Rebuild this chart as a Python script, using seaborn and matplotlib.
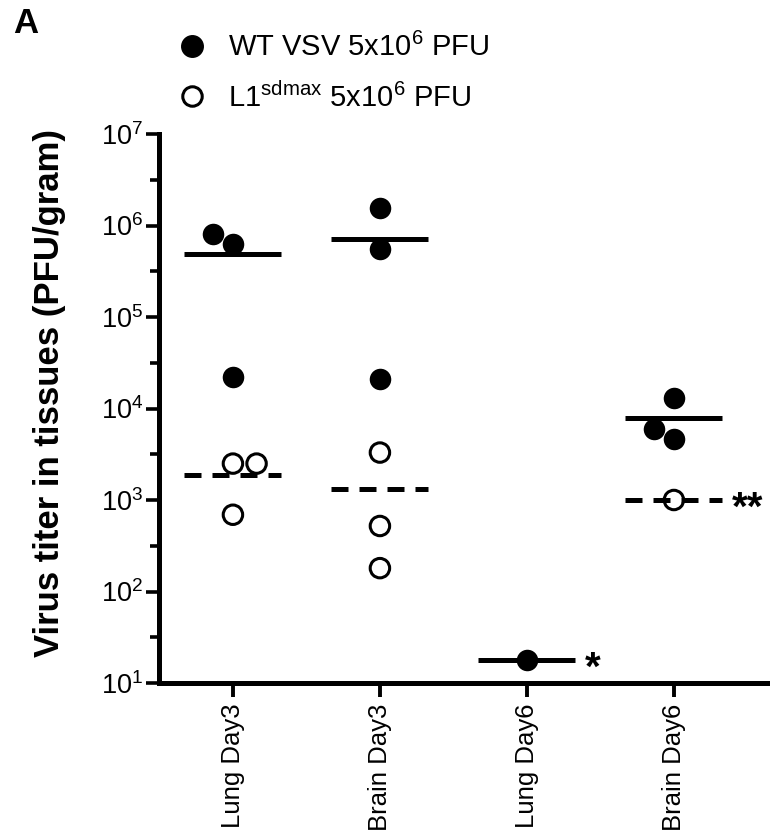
import numpy as np
import pandas as pd
import matplotlib
matplotlib.use("Agg")
import matplotlib.pyplot as plt
import seaborn as sns
from matplotlib.lines import Line2D
from matplotlib.ticker import FixedLocator, LogFormatterMathtext, NullFormatter

# ---------------- data ----------------
categories = ["Lung Day3", "Brain Day3", "Lung Day6", "Brain Day6"]
series_names = ["WT VSV 5x10$^{6}$ PFU", "L1$^{\\mathrm{sdmax}}$ 5x10$^{6}$ PFU"]

wt_lung_day3 = [8.1e5, 6.3e5, 2.2e4]
wt_brain_day3 = [1.55e6, 5.5e5, 2.1e4]
wt_lung_day6 = [18.0]
wt_brain_day6 = [1.3e4, 6.0e3, 4.7e3]

l1_lung_day3 = [2.5e3, 2.5e3, 6.9e2]
l1_brain_day3 = [3.3e3, 5.2e2, 1.8e2]
l1_lung_day6 = []
l1_brain_day6 = [1.0e3]

significance = {("WT", "Lung Day6"): "*", ("L1", "Brain Day6"): "**"}

rows = []
for virus, groups in [("WT", [wt_lung_day3, wt_brain_day3, wt_lung_day6, wt_brain_day6]),
                      ("L1", [l1_lung_day3, l1_brain_day3, l1_lung_day6, l1_brain_day6])]:
    for cat, vals in zip(categories, groups):
        for v in vals:
            rows.append({"tissue": cat, "virus": virus, "titer": v})
df = pd.DataFrame(rows)
df["tissue"] = pd.Categorical(df["tissue"], categories=categories, ordered=True)

# ---------------- style ----------------
sns.set_theme(style="ticks")
plt.rcParams["font.family"] = ["Liberation Sans", "DejaVu Sans"]
plt.rcParams["mathtext.fontset"] = "custom"
plt.rcParams["mathtext.rm"] = "Liberation Sans"
plt.rcParams["mathtext.it"] = "Liberation Sans:italic"
plt.rcParams["mathtext.bf"] = "Liberation Sans:bold"
plt.rcParams["text.color"] = "black"
plt.rcParams["axes.labelcolor"] = "black"
plt.rcParams["xtick.color"] = "black"
plt.rcParams["ytick.color"] = "black"

W, H = 770, 839
fig = plt.figure(figsize=(W / 100, H / 100), dpi=100)
ax = fig.add_axes([159 / W, 1 - 683 / H, (769 - 159) / W, (683 - 134) / H])
ax.set_yscale("log")
ax.set_ylim(10, 1e7)

marker_size = 15.5
sns.swarmplot(data=df[df["virus"] == "WT"], x="tissue", y="titer", order=categories,
              color="black", edgecolor="black", linewidth=0, size=marker_size,
              ax=ax, zorder=3)
sns.swarmplot(data=df[df["virus"] == "L1"], x="tissue", y="titer", order=categories,
              color="black", facecolor="none", edgecolor="black", linewidth=2.2,
              size=marker_size - 1.5, ax=ax, zorder=3)
ax.set_xlim(-0.503, 3.647)
ax.set_ylim(10, 1e7)

# mean lines
lw = 3.6
means = df.groupby(["virus", "tissue"], observed=True)["titer"].mean()
for (virus, tissue), m in means.items():
    i = categories.index(tissue)
    style = "-" if virus == "WT" else (0, (3.4, 2.2))
    ax.hlines(m, i - 0.33, i + 0.33, colors="black", linewidth=lw,
              linestyles=style, zorder=2)
    if (virus, tissue) in significance:
        ax.annotate(significance[(virus, tissue)], xy=(i + 0.33, m),
                    xytext=(9, -20), textcoords="offset pixels",
                    ha="left", va="baseline", fontsize=29, fontweight="bold")

# axes
sns.despine(ax=ax)
for s in ["left", "bottom"]:
    ax.spines[s].set_linewidth(3.6)
    ax.spines[s].set_color("black")
    ax.spines[s].set_capstyle("projecting")

ax.yaxis.set_major_locator(FixedLocator([10.0 ** k for k in range(1, 8)]))
ax.yaxis.set_major_formatter(LogFormatterMathtext())
ax.yaxis.set_minor_locator(FixedLocator([10.0 ** (k + 0.5) for k in range(1, 7)]))
ax.yaxis.set_minor_formatter(NullFormatter())
ax.tick_params(axis="y", which="major", length=9.5, width=2.6, labelsize=19.5, pad=2)
ax.tick_params(axis="y", which="minor", length=6.5, width=2.6)
ax.tick_params(axis="x", which="major", length=10, width=2.8, labelsize=18.5, pad=5)
ax.set_xticks(range(len(categories)))
ax.set_xticklabels(categories, rotation=90)
ax.set_xlabel("")
ax.set_ylabel("Virus titer in tissues (PFU/gram)", fontsize=25, fontweight="bold")
ax.yaxis.set_label_coords((66 - 159) / 610, (683 - 393) / 549)

# legend
handles = [Line2D([], [], linestyle="none", marker="o", markersize=marker_size,
                  markerfacecolor="black", markeredgecolor="black"),
           Line2D([], [], linestyle="none", marker="o", markersize=marker_size - 1.5,
                  markerfacecolor="none", markeredgecolor="black", markeredgewidth=2.2)]
ax.legend(handles, series_names, loc="upper left", bbox_to_anchor=(178 / W, 1 - 33 / H),
          bbox_transform=fig.transFigure, frameon=False, fontsize=21,
          handlelength=0.95, handletextpad=0.75, labelspacing=0.68, borderpad=0,
          borderaxespad=0)

fig.text(13 / W, 1 - 7 / H, "A", fontsize=25, fontweight="bold", ha="left", va="top")

fig.savefig("out.png", dpi=100)
